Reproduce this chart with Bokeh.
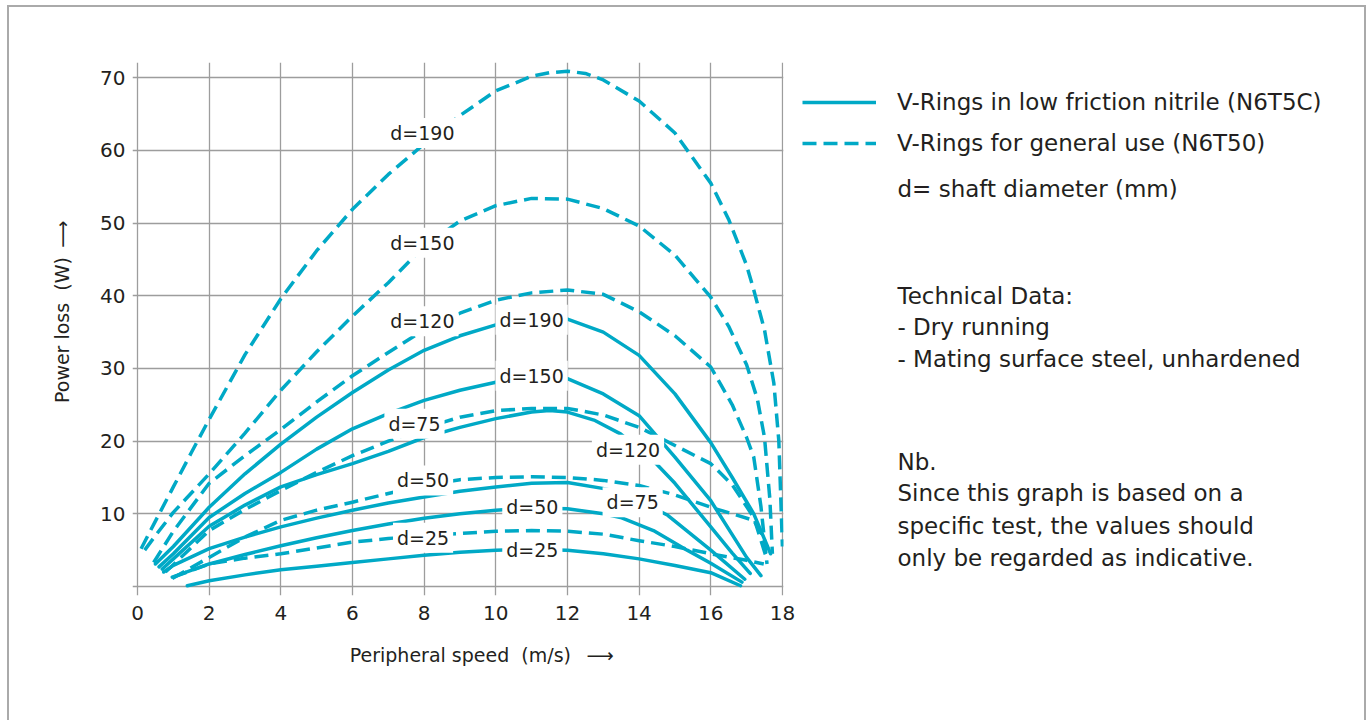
from bokeh.plotting import figure
from bokeh.layouts import row
from bokeh.models import Range1d, FixedTicker, Label, Legend, LegendItem
from bokeh.embed import file_html
from bokeh.resources import INLINE

# ---------------- data ----------------
speed_ticks = [0, 2, 4, 6, 8, 10, 12, 14, 16, 18]
power_ticks = [10, 20, 30, 40, 50, 60, 70]
power_grid = [0, 10, 20, 30, 40, 50, 60, 70]

# V-Rings for general use (N6T50) - dashed
gen_d190_x = [0.1, 0.5, 1, 1.5, 2, 3, 4, 5, 6, 7, 8, 9, 10, 11, 11.5, 12, 12.5, 13, 14, 15, 16, 16.5, 17, 17.2, 17.5, 17.76, 17.9, 18.0]
gen_d190_y = [5.2, 9.0, 13.7, 18.4, 23.0, 31.9, 39.6, 46.2, 51.9, 56.7, 60.9, 64.8, 68.2, 70.2, 70.7, 70.9, 70.6, 69.7, 66.8, 62.4, 55.5, 50.5, 44.2, 40.8, 35.3, 28.0, 20.0, 5.5]

gen_d150_x = [0.2, 0.5, 1, 2, 3, 4, 5, 6, 7, 8, 9, 10, 11, 12, 13, 14, 15, 16, 16.5, 17.0, 17.3, 17.5, 17.65, 17.72]
gen_d150_y = [5.0, 7.0, 10.2, 15.5, 21.1, 27.0, 32.3, 37.2, 41.8, 46.8, 50.3, 52.4, 53.4, 53.3, 52.0, 49.6, 45.6, 39.8, 35.8, 30.5, 25.8, 20.5, 12.0, 4.5]

gen_d120_x = [0.45, 1, 2, 3, 4, 5, 6, 7, 8, 9, 10, 11, 12, 13, 14, 15, 16, 16.6, 17.0, 17.2, 17.4, 17.57]
gen_d120_y = [3.3, 7.6, 14.2, 18.0, 21.6, 25.4, 29.0, 32.2, 35.3, 37.6, 39.4, 40.4, 40.8, 40.2, 37.8, 34.5, 30.2, 25.0, 20.5, 17.8, 11.0, 3.1]

gen_d75_x = [0.78, 1, 2, 3, 4, 5, 6, 7, 8, 9, 10, 11, 12, 13, 14, 15, 16, 16.6, 17.2, 17.55]
gen_d75_y = [2.0, 3.0, 7.7, 10.6, 13.2, 15.7, 18.0, 20.0, 21.8, 23.3, 24.2, 24.5, 24.5, 23.6, 21.9, 19.4, 16.9, 14.0, 9.5, 4.0]

gen_d50_x = [0.97, 2, 3, 4, 5, 6, 7, 8, 9, 10, 11, 12, 13, 14, 15, 16, 17.2, 17.45]
gen_d50_y = [1.1, 4.0, 6.8, 9.1, 10.5, 11.6, 12.8, 13.9, 14.7, 15.0, 15.1, 15.0, 14.6, 13.9, 12.6, 10.9, 9.1, 7.0]

gen_d25_x = [1.0, 2, 3, 4, 5, 6, 7, 8, 9, 10, 11, 12, 13, 14, 15, 16, 17, 17.48]
gen_d25_y = [1.3, 3.1, 3.9, 4.5, 5.3, 6.1, 6.6, 7.0, 7.3, 7.6, 7.7, 7.6, 7.2, 6.3, 5.5, 4.5, 3.6, 3.1]

# V-Rings in low friction nitrile (N6T5C) - solid
lf_d190_x = [0.5, 1, 2, 3, 4, 5, 6, 7, 8, 9, 10, 11, 12, 13, 14, 15, 16, 16.6, 17.2, 17.67]
lf_d190_y = [3.1, 5.5, 10.9, 15.5, 19.6, 23.3, 26.7, 29.8, 32.5, 34.5, 36.0, 36.8, 36.8, 35.0, 31.8, 26.5, 19.8, 15.0, 10.0, 4.5]

lf_d150_x = [0.6, 1, 2, 3, 4, 5, 6, 7, 8, 9, 10, 11, 12, 13, 14, 15, 16, 17, 17.4]
lf_d150_y = [2.7, 4.5, 9.5, 12.8, 15.7, 18.9, 21.7, 23.8, 25.6, 27.0, 28.1, 28.7, 28.6, 26.5, 23.5, 17.8, 11.8, 4.0, 1.5]

lf_d120_x = [0.69, 1, 2, 3, 4, 5, 6, 7, 8, 9, 10, 11, 11.5, 12, 12.74, 13.48, 14.4, 15, 16, 16.6, 17.1]
lf_d120_y = [2.4, 3.8, 8.3, 11.2, 13.7, 15.4, 16.9, 18.6, 20.5, 21.9, 23.1, 24.0, 24.2, 24.0, 22.9, 21.0, 17.3, 14.2, 8.2, 4.6, 1.8]

lf_d75_x = [0.73, 1, 2, 3, 4, 5, 6, 7, 8, 9, 10, 11, 12, 13.1, 14, 14.8, 16, 16.95]
lf_d75_y = [2.0, 2.9, 5.2, 6.8, 8.2, 9.4, 10.5, 11.5, 12.3, 13.1, 13.7, 14.2, 14.3, 13.4, 11.8, 9.8, 5.0, 1.0]

lf_d50_x = [0.97, 2, 3, 4, 5, 6, 7, 8, 9, 10, 11, 12, 13, 13.48, 14.4, 15.34, 16, 16.87]
lf_d50_y = [1.3, 3.1, 4.4, 5.6, 6.7, 7.7, 8.6, 9.4, 10.0, 10.5, 10.8, 10.7, 10.0, 9.5, 7.7, 5.0, 3.2, 0.6]

lf_d25_x = [1.39, 2, 3, 4, 5, 6, 7, 8, 9, 10, 11, 12, 13, 14, 15, 16, 16.83]
lf_d25_y = [0.1, 0.8, 1.6, 2.3, 2.8, 3.3, 3.8, 4.3, 4.7, 5.0, 5.1, 5.0, 4.5, 3.8, 2.9, 1.9, 0.1]

# curve labels
curve_label_text = ["d=190", "d=150", "d=120", "d=75", "d=50", "d=25",
                    "d=190", "d=150", "d=50", "d=25", "d=120", "d=75"]
curve_label_x = [7.95, 7.95, 7.95, 7.73, 7.97, 7.97, 11.0, 11.0, 11.02, 11.02, 13.69, 13.82]
curve_label_y = [62.4, 47.3, 36.5, 22.4, 14.6, 6.7, 36.7, 29.0, 11.0, 5.0, 18.8, 11.6]

x_title = "Peripheral speed\u00a0 (m/s)"
y_title = "Power loss\u00a0 (W)"
legend_labels = ["V-Rings in low friction nitrile (N6T5C)", "V-Rings for general use (N6T50)"]
note_lines = ["d= shaft diameter (mm)",
              "Technical Data:", "- Dry running", "- Mating surface steel, unhardened",
              "Nb.", "Since this graph is based on a", "specific test, the values should",
              "only be regarded as indicative."]

# ---------------- style ----------------
CYAN = "#00a9c6"
INK = "#231f20"
FONT = "DejaVu Sans"
H = 713
ARROW = "\u27f6"

p = figure(width=790, height=H,
           x_range=Range1d(-0.14, 18.03), y_range=Range1d(-1.24, 72.1),
           output_backend="svg", toolbar_location=None,
           min_border_left=123, min_border_right=16,
           min_border_top=55, min_border_bottom=125)
p.outline_line_color = None

p.xaxis.ticker = FixedTicker(ticks=speed_ticks)
p.yaxis.ticker = FixedTicker(ticks=power_ticks)
p.xgrid.ticker = FixedTicker(ticks=speed_ticks)
p.ygrid.ticker = FixedTicker(ticks=power_grid)
for g in (p.xgrid, p.ygrid):
    g.grid_line_color = "#9d9d9d"
    g.grid_line_width = 1.3

for ax in (p.xaxis, p.yaxis):
    ax.axis_line_color = None
    ax.major_tick_line_color = None
    ax.minor_tick_line_color = None
    ax.major_tick_out = 0
    ax.major_tick_in = 0
    ax.major_label_text_font = FONT
    ax.major_label_text_font_size = "20px"
    ax.major_label_text_color = INK
    ax.axis_label_text_font = FONT
    ax.axis_label_text_font_size = "19px"
    ax.axis_label_text_font_style = "normal"
    ax.axis_label_text_color = INK

p.xaxis.major_label_standoff = 10
p.yaxis.major_label_standoff = 7
# leading spaces balance the arrow so the words stay centred on the frame
p.xaxis.axis_label = "\u2003\u2003\u2002" + x_title + "\u2002\u00a0" + ARROW
p.yaxis.axis_label = "\u2003\u2002\u00a0" + y_title + "\u2002" + ARROW
p.xaxis.axis_label_standoff = 21
p.yaxis.axis_label_standoff = 24

LW = 3.5
DASH = "14 7"
gen = [(gen_d190_x, gen_d190_y), (gen_d150_x, gen_d150_y), (gen_d120_x, gen_d120_y),
       (gen_d75_x, gen_d75_y), (gen_d50_x, gen_d50_y), (gen_d25_x, gen_d25_y)]
lf = [(lf_d190_x, lf_d190_y), (lf_d150_x, lf_d150_y), (lf_d120_x, lf_d120_y),
      (lf_d75_x, lf_d75_y), (lf_d50_x, lf_d50_y), (lf_d25_x, lf_d25_y)]

for x, y in gen:
    p.line(x, y, line_color=CYAN, line_width=LW, line_dash=DASH, line_cap="butt", line_join="round")
for x, y in lf:
    p.line(x, y, line_color=CYAN, line_width=LW, line_cap="round", line_join="round")

for t, x, y in zip(curve_label_text, curve_label_x, curve_label_y):
    p.add_layout(Label(x=x, y=y, text=t, text_font=FONT, text_font_size="19px",
                       text_color=INK, text_align="center", text_baseline="middle",
                       background_fill_color="white", padding=4))

# ---------------- right panel: legend and notes (page-pixel coordinates) ----------------
W2 = 565
q = figure(width=W2, height=H, x_range=Range1d(799, 799 + W2), y_range=Range1d(595, 62),
           x_axis_type=None, y_axis_type=None, output_backend="svg",
           toolbar_location=None, min_border_left=0, min_border_right=0,
           min_border_top=55, min_border_bottom=125)
q.outline_line_color = None
q.grid.visible = False

# legend keys: same series, falling outside this panel's view (only their legend glyph shows)
solid_key = q.line(lf_d190_x, lf_d190_y, line_color=CYAN, line_width=LW)
dash_key = q.line(gen_d190_x, gen_d190_y, line_color=CYAN, line_width=LW, line_dash=DASH)
legend = Legend(items=[LegendItem(label=legend_labels[0], renderers=[solid_key]),
                       LegendItem(label=legend_labels[1], renderers=[dash_key])],
                location=(3, 432), orientation="vertical",
                glyph_width=74, glyph_height=40, label_height=40, spacing=1,
                label_standoff=21, padding=0, margin=0,
                border_line_color=None, background_fill_alpha=0,
                label_text_font=FONT, label_text_font_size="23px", label_text_color=INK)
q.add_layout(legend)

note_x = 897
note_y = [188, 295, 326.5, 358, 461, 492.5, 525, 557]
for t, y in zip(note_lines, note_y):
    q.add_layout(Label(x=note_x, y=y, text=t, text_font=FONT, text_font_size="23px",
                       text_color=INK, text_align="left", text_baseline="middle"))

layout = row(p, q, margin=(7, 0, 0, 9), styles={"outline": "2px solid #aaaaaa"})

open("out.html", "w").write(file_html(layout, INLINE))
